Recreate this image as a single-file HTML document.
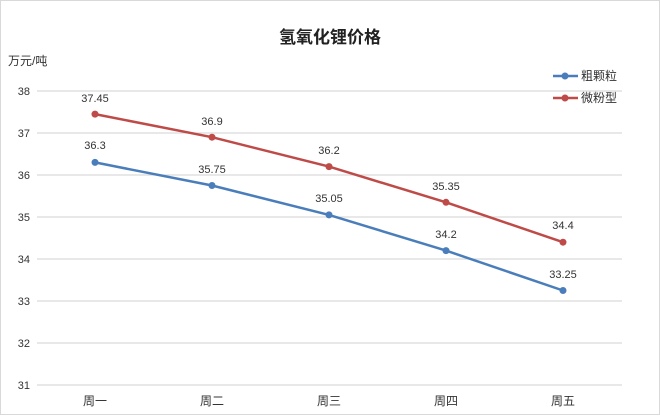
<!DOCTYPE html>
<html><head><meta charset="utf-8"><style>
html,body{margin:0;padding:0;background:#fff;}
svg text{font-family:"Liberation Sans","Noto Sans CJK SC",sans-serif;}
</style></head><body>
<svg width="660" height="415" viewBox="0 0 660 415" xmlns="http://www.w3.org/2000/svg">
<rect x="0.5" y="0.5" width="659" height="414" fill="#fff" stroke="#d9d9d9"/>
<text x="330" y="43" text-anchor="middle" font-size="17" font-weight="bold" fill="#222">氢氧化锂价格</text>
<text x="8" y="65" font-size="12" fill="#333">万元/吨</text>
<g stroke="#d9d9d9" stroke-width="1.3">
<line x1="37" x2="622" y1="91" y2="91"/><line x1="37" x2="622" y1="133" y2="133"/>
<line x1="37" x2="622" y1="175" y2="175"/><line x1="37" x2="622" y1="217" y2="217"/>
<line x1="37" x2="622" y1="259" y2="259"/><line x1="37" x2="622" y1="301" y2="301"/>
<line x1="37" x2="622" y1="343" y2="343"/><line x1="37" x2="622" y1="385" y2="385"/>
</g>
<g font-size="11" fill="#333" text-anchor="end">
<text x="30" y="95">38</text><text x="30" y="137">37</text><text x="30" y="179">36</text>
<text x="30" y="221">35</text><text x="30" y="263">34</text><text x="30" y="305">33</text>
<text x="30" y="347">32</text><text x="30" y="389">31</text>
</g>
<g font-size="12" fill="#333" text-anchor="middle">
<text x="95" y="405">周一</text><text x="212" y="405">周二</text><text x="329" y="405">周三</text>
<text x="446" y="405">周四</text><text x="563" y="405">周五</text>
</g>
<polyline fill="none" stroke="#4a7ebb" stroke-width="2.5" points="95,162.4 212,185.5 329,214.9 446,250.6 563,290.5"/>
<polyline fill="none" stroke="#be4b48" stroke-width="2.5" points="95,114.1 212,137.2 329,166.6 446,202.3 563,242.2"/>
<g fill="#4a7ebb"><circle cx="95" cy="162.4" r="3.5"/><circle cx="212" cy="185.5" r="3.5"/><circle cx="329" cy="214.9" r="3.5"/><circle cx="446" cy="250.6" r="3.5"/><circle cx="563" cy="290.5" r="3.5"/></g>
<g fill="#be4b48"><circle cx="95" cy="114.1" r="3.5"/><circle cx="212" cy="137.2" r="3.5"/><circle cx="329" cy="166.6" r="3.5"/><circle cx="446" cy="202.3" r="3.5"/><circle cx="563" cy="242.2" r="3.5"/></g>
<g font-size="11" fill="#333" text-anchor="middle">
<text x="95" y="149">36.3</text><text x="212" y="173">35.75</text><text x="329" y="202">35.05</text><text x="446" y="238">34.2</text><text x="563" y="278">33.25</text>
<text x="95" y="102">37.45</text><text x="212" y="125">36.9</text><text x="329" y="154">36.2</text><text x="446" y="190">35.35</text><text x="563" y="229">34.4</text>
</g>
<line x1="553" x2="578" y1="76" y2="76" stroke="#4a7ebb" stroke-width="2.5"/><circle cx="565" cy="76" r="3.5" fill="#4a7ebb"/>
<line x1="553" x2="578" y1="98" y2="98" stroke="#be4b48" stroke-width="2.5"/><circle cx="565" cy="98" r="3.5" fill="#be4b48"/>
<text x="581" y="80" font-size="12" fill="#333">粗颗粒</text>
<text x="581" y="102" font-size="12" fill="#333">微粉型</text>
</svg>
</body></html>
